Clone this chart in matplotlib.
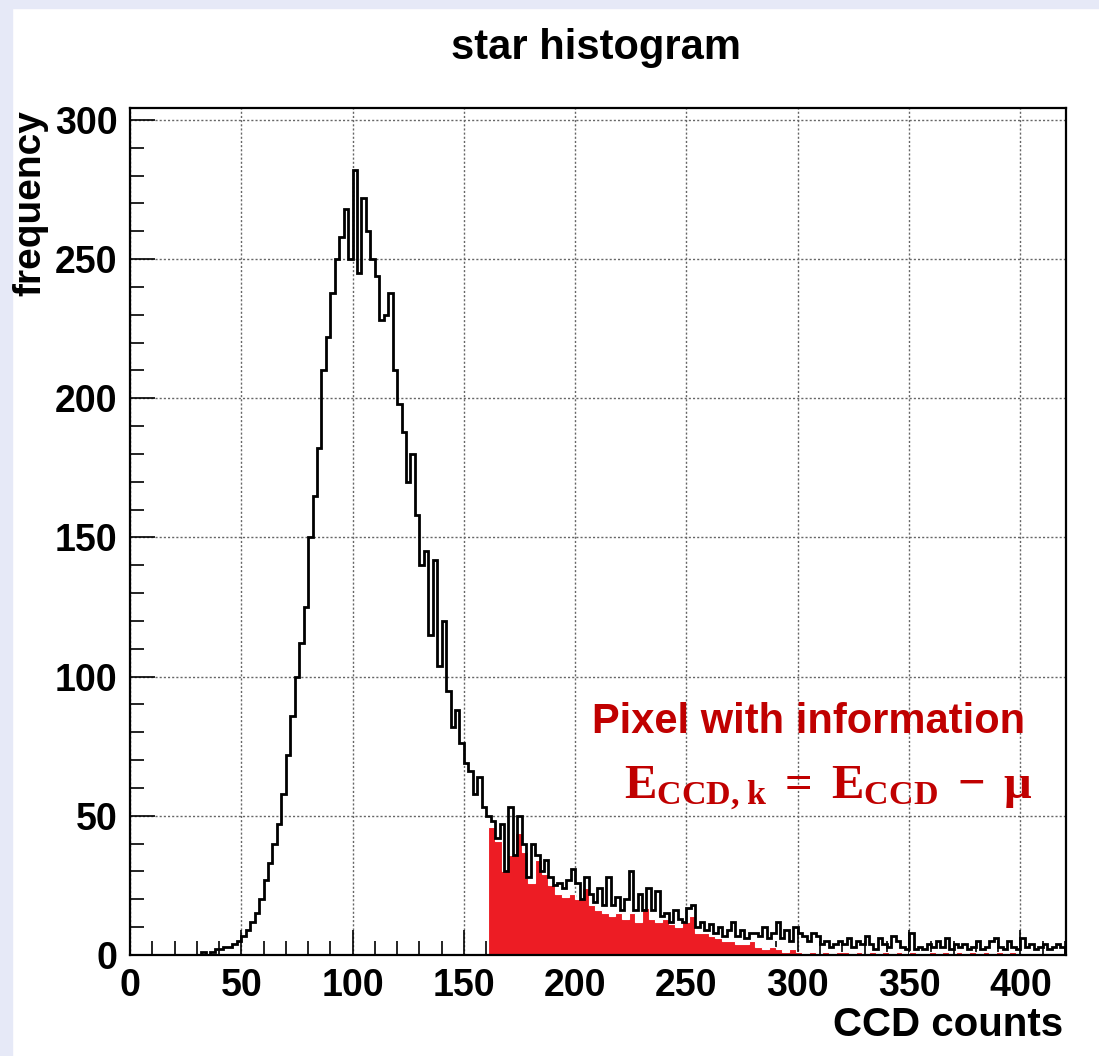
import numpy as np
import matplotlib
matplotlib.use("Agg")
import matplotlib.pyplot as plt
from matplotlib.ticker import MultipleLocator
from matplotlib.patches import Rectangle

plt.rcParams['font.family'] = ['Liberation Sans', 'DejaVu Sans']
plt.rcParams['font.weight'] = 'bold'
plt.rcParams['mathtext.fontset'] = 'custom'
plt.rcParams['mathtext.rm'] = 'Liberation Serif'
plt.rcParams['mathtext.bf'] = 'Liberation Serif:bold'

# black histogram: 2-count bins starting at 30 CCD counts
black_start = 30
black_width = 2
black_counts = [
    0, 1, 0, 1, 2, 2, 3, 3, 4, 5,                       # 30-48
    7, 9, 12, 15, 20, 27, 33, 40, 47, 58,               # 50-68
    72, 86, 100, 112, 125, 150, 165, 182, 210, 222,     # 70-88
    238, 250, 258, 268, 250, 282, 245, 272, 260, 250,   # 90-108
    244, 228, 230, 238, 210, 198, 188, 170, 180, 158,   # 110-128
    140, 145, 115, 142, 104, 120, 95, 82, 88, 76,       # 130-148
    69, 66, 58, 64, 53, 50, 48, 42, 47, 30,             # 150-168
    53, 36, 50, 40, 28, 40, 36, 30, 34, 28,             # 170-188
    25, 26, 24, 27, 31, 26, 20, 28, 22, 19,             # 190-208
    24, 18, 28, 18, 21, 16, 20, 30, 16, 22,             # 210-228
    16, 24, 16, 23, 14, 15, 12, 16, 13, 12,             # 230-248
    17, 18, 10, 12, 9, 11, 8, 10, 7, 9,                 # 250-268
    12, 7, 9, 6, 8, 8, 7, 10, 6, 8,                     # 270-288
    12, 6, 9, 5, 10, 8, 7, 5, 8, 7,                     # 290-308
    4, 5, 3, 4, 5, 4, 6, 3, 5, 4,                       # 310-328
    7, 4, 2, 6, 4, 3, 7, 5, 3, 2,                       # 330-348
    8, 2, 3, 2, 4, 3, 5, 3, 6, 2,                       # 350-368
    4, 3, 4, 2, 3, 5, 2, 3, 5, 6,                       # 370-388
    3, 2, 5, 3, 2, 6, 3, 4, 2, 3,                       # 390-408
    4, 2, 3, 4, 3,                                      # 410-418
]

# red histogram (pixels with information): 3-count bins from 161
red_start = 161
red_width = 3
red_counts = [
    46, 41, 30, 36, 44, 37, 26, 34, 29, 25,
    22, 21, 22, 20, 24, 18, 16, 15, 14, 15,
    13, 15, 12, 17, 13, 12, 13, 11, 10, 12,
    14, 8, 8, 7, 6, 5, 5, 4, 4, 5,
    3, 2, 3, 2, 1, 2, 1, 0, 1, 0,
    1, 0, 1, 1, 0, 1, 0, 1, 0, 1,
    0, 1, 0, 1, 0, 0, 1, 0, 1, 0,
    1, 0, 1, 0, 1, 0, 1, 0, 1,
]

x_ticks = [0, 50, 100, 150, 200, 250, 300, 350, 400]
y_ticks = [0, 50, 100, 150, 200, 250, 300]

black_edges = black_start + black_width * np.arange(len(black_counts) + 1)
red_edges = red_start + red_width * np.arange(len(red_counts) + 1)

W, H = 1099, 1056
fig = plt.figure(figsize=(W / 100, H / 100), dpi=100, facecolor='white')

# pale slide background showing at the left and top edges
fig.patches.append(Rectangle((0, 0), 12 / W, 1, transform=fig.transFigure,
                             color='#e6e9f7', zorder=0))
fig.patches.append(Rectangle((0, 1 - 8 / H), 1, 8 / H, transform=fig.transFigure,
                             color='#e6e9f7', zorder=0))

ax = fig.add_axes([130 / W, 1 - 955 / H, (1066 - 130) / W, (955 - 108) / H])

ax.stairs(red_counts, red_edges, fill=True, facecolor='#ed1c24',
          edgecolor='white', linewidth=0.8, zorder=2)
ax.stairs(black_counts, black_edges, color='black', linewidth=2.0, zorder=3)

ax.set_xlim(0, 420.5)
ax.set_ylim(0, 304.3)
ax.set_xticks(x_ticks)
ax.set_yticks(y_ticks)
ax.xaxis.set_minor_locator(MultipleLocator(10))
ax.yaxis.set_minor_locator(MultipleLocator(10))
ax.tick_params(which='both', direction='in', top=False, right=False,
               width=1.2, labelsize=27)
ax.tick_params(which='major', length=18, pad=9)
ax.tick_params(which='minor', length=10)
ax.grid(True, which='major', color='#666666', linestyle=(0, (1.5, 1.5)),
        linewidth=1.0)
ax.set_axisbelow(True)
for s in ax.spines.values():
    s.set_linewidth(1.6)

fig.text(596 / W, 1 - 48 / H, 'star histogram', ha='center', va='center',
         fontsize=30, fontweight='bold')
fig.text(1063 / W, 1 - 1025 / H, 'CCD counts', ha='right', va='center',
         fontsize=29, fontweight='bold')
fig.text(30 / W, 1 - 110 / H, 'frequency', rotation=90, ha='center', va='top',
         fontsize=28, fontweight='bold')

fig.text(809 / W, 1 - 722 / H, 'Pixel with information', ha='center',
         va='center', fontsize=30, fontweight='bold', color='#c00000')
fig.text(828 / W, 1 - 788 / H, r'$\mathbf{E_{CCD,k}\,=\,E_{CCD}\,-\,μ}$',
         ha='center', va='center', fontsize=35, color='#c00000')

fig.savefig('out.png', dpi=100, facecolor=fig.get_facecolor())
